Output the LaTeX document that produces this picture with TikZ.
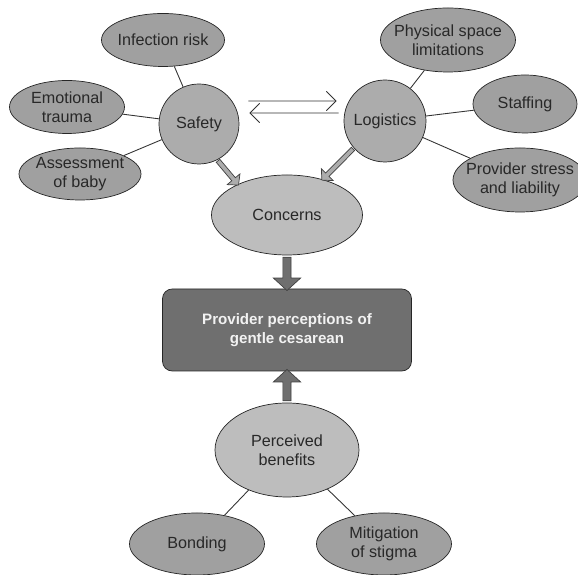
\documentclass[tikz,border=0pt]{standalone}
\usepackage{fontspec}
\setmainfont{Liberation Sans}
\usetikzlibrary{shapes.geometric,shapes.arrows,arrows.meta,positioning,calc}
\definecolor{satgray}{RGB}{160,160,160}
\definecolor{hubgray}{RGB}{172,172,172}
\definecolor{coregray}{RGB}{189,189,189}
\definecolor{boxgray}{RGB}{111,111,111}
\definecolor{txtgray}{RGB}{40,40,40}

% block arrow between two points: from, to, style
\newcommand{\blockarr}[3]{%
  \path let \p1=(#1), \p2=(#2), \n1={atan2(\y2-\y1,\x2-\x1)}, \n2={veclen(\x2-\x1,\y2-\y1)} in
    node[#3, minimum height=\n2, rotate=\n1] at ($(\p1)!0.5!(\p2)$) {};}

\begin{document}
\begin{tikzpicture}[
  lbl/.style={align=center, text=txtgray, font=\fontsize{9.2}{10.8}\selectfont},
  sat/.style={ellipse, draw=black!85, fill=satgray, inner sep=-6pt, lbl},
  hub/.style={circle, draw=black!85, fill=hubgray, inner sep=0pt, lbl},
  core/.style={ellipse, draw=black!85, fill=coregray, inner sep=-6pt, lbl},
  mainbox/.style={rectangle, rounded corners=5.5pt, draw=black!85, fill=boxgray, align=center,
                  minimum width=4.98cm, minimum height=1.64cm, text=white!95!black,
                  font=\bfseries\fontsize{8.6}{10.9}\selectfont},
  link/.style={line width=0.5pt, black!80},
  dbl/.style={-{Straight Barb[length=5.5pt,width=11pt]}, line width=0.5pt, black!80},
  lightarr/.style={single arrow, draw=black!75, fill=hubgray, inner xsep=0pt, inner ysep=0.04cm,
                   minimum width=0pt, single arrow head extend=0.12cm, single arrow tip angle=95},
  darkarr/.style={single arrow, draw=black!75, fill=boxgray, inner xsep=0pt, inner ysep=0.075cm,
                  minimum width=0pt, single arrow head extend=0.19cm, single arrow tip angle=95},
  on grid
]
\useasboundingbox (-5.74,-4.9) rectangle (5.82,6.6);

\node[mainbox](main){Provider perceptions of\\gentle cesarean};
\node[core, minimum width=3.02cm, minimum height=1.6cm, above=2.3cm of main](concerns){Concerns};
\node[core, minimum width=2.88cm, minimum height=1.88cm, below=2.4cm of main](benefits){Perceived\\benefits};
\node[sat, minimum width=2.7cm, minimum height=1.24cm, below left=1.88cm and 1.8cm of benefits](bonding){Bonding};
\node[sat, minimum width=2.7cm, minimum height=1.24cm, below right=1.88cm and 1.94cm of benefits](stigma){Mitigation\\of stigma};

\node[hub, minimum size=1.6cm, above left=1.82cm and 1.76cm of concerns](safety){Safety};
\node[hub, minimum size=1.64cm, above right=1.88cm and 1.96cm of concerns](logistics){Logistics};

\node[sat, minimum width=2.46cm, minimum height=1.06cm, above left=1.68cm and 0.72cm of safety](infection){Infection risk};
\node[sat, minimum width=2.3cm, minimum height=1.06cm, above left=0.34cm and 2.64cm of safety](trauma){Emotional\\trauma};
\node[sat, minimum width=2.44cm, minimum height=1.04cm, below left=1cm and 2.38cm of safety](baby){Assessment\\of baby};

\node[sat, minimum width=2.7cm, minimum height=1.28cm, above right=1.62cm and 1.26cm of logistics](space){Physical space\\limitations};
\node[sat, minimum width=2.08cm, minimum height=1.16cm, above right=0.34cm and 2.8cm of logistics](staffing){Staffing};
\node[sat, minimum width=2.68cm, minimum height=1.28cm, below right=1.18cm and 2.7cm of logistics](stress){Provider stress\\and liability};

\draw[link](infection)--(safety);
\draw[link](trauma)--(safety);
\draw[link](baby)--(safety);
\draw[link](space)--(logistics);
\draw[link](staffing)--(logistics);
\draw[link](stress)--(logistics);
\draw[link](benefits)--(bonding);
\draw[link](benefits)--(stigma);

\draw[dbl]([shift={(0.18,0.46)}]safety.east)--([shift={(-0.14,0.4)}]logistics.west);
\draw[dbl]([shift={(-0.1,0.16)}]logistics.west)--([shift={(0.2,0.22)}]safety.east);

\blockarr{safety.-63}{concerns.148}{lightarr}
\blockarr{logistics.-139}{concerns.45}{lightarr}
\blockarr{concerns.south}{main.north}{darkarr}
\blockarr{benefits.north}{main.south}{darkarr}
\end{tikzpicture}
\end{document}
